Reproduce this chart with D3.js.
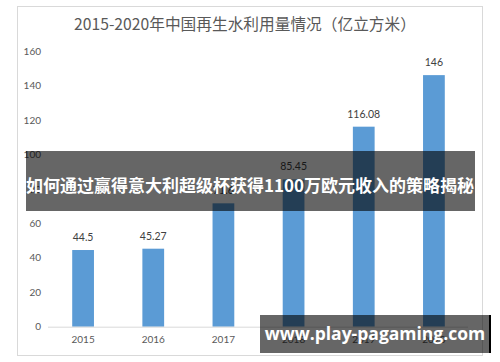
<!DOCTYPE html>
<html><head><meta charset="utf-8">
<script src="https://cdn.jsdelivr.net/npm/d3@7/dist/d3.min.js"></script>
<style>body{margin:0;background:#fff}svg{display:block}</style>
</head><body>
<svg id="c" width="500" height="362"></svg>
<script>
const title = "2015-2020年中国再生水利用量情况（亿立方米）";
const years = ["2015","2016","2017","2018","2019","2020"];
const values = [44.5, 45.27, 71.6, 85.45, 116.08, 146];
const valueLabels = ["44.5","45.27","71.6","85.45","116.08","146"];
const yTicks = [0,20,40,60,80,100,120,140,160];
const overlayText = "如何通过赢得意大利超级杯获得1100万欧元收入的策略揭秘";
const watermark = "www.play-pagaming.com";

const svg = d3.select("#c");
const font = "Lato, 'Noto Sans CJK SC', sans-serif";
svg.append("rect").attr("x",17.5).attr("y",6.5).attr("width",465).attr("height",349)
  .attr("fill","#fff").attr("stroke","#d9d9d9").attr("stroke-width",1);

svg.append("text").attr("x",245).attr("y",30).attr("text-anchor","middle")
  .attr("font-family","'Noto Sans CJK SC', sans-serif").attr("font-size",15.7).attr("fill","#595959").text(title);

const x = d3.scaleBand().domain(years).range([48,469]).paddingInner(0.69).paddingOuter(0.345);
const y = d3.scaleLinear().domain([0,160]).range([326.7,51]);

const ya = svg.append("g").attr("transform","translate(41,0)")
  .call(d3.axisLeft(y).tickValues(yTicks).tickSize(0).tickPadding(0));
ya.select(".domain").remove();
ya.selectAll("text").attr("font-family",font).attr("font-size",10).attr("fill","#595959");

svg.append("g").selectAll("rect").data(values).join("rect")
  .attr("x",(d,i)=>x(years[i])).attr("width",x.bandwidth())
  .attr("y",d=>y(d)).attr("height",d=>y(0)-y(d)).attr("fill","#5b9bd5");

const xa = svg.append("g").attr("transform",`translate(0,${y(0)})`)
  .call(d3.axisBottom(x).tickSize(0).tickPadding(9));
xa.select(".domain").remove();
svg.append("line").attr("x1",48).attr("x2",468).attr("y1",y(0)+0.5).attr("y2",y(0)+0.5).attr("stroke","#d9d9d9");
xa.selectAll("text").attr("font-family",font).attr("font-size",10).attr("fill","#595959");

svg.append("g").selectAll("text").data(values).join("text")
  .attr("x",(d,i)=>x(years[i])+x.bandwidth()/2).attr("y",d=>y(d)-9)
  .attr("text-anchor","middle").attr("font-family",font).attr("font-size",10.5).attr("fill","#404040")
  .text((d,i)=>valueLabels[i]);

svg.append("rect").attr("x",26).attr("y",151).attr("width",449).attr("height",60).attr("fill","rgba(0,0,0,0.6)");
svg.append("text").attr("x",250).attr("y",187).attr("text-anchor","middle").attr("dominant-baseline","middle")
  .attr("font-family","'Noto Sans CJK SC', sans-serif").attr("font-weight","bold").attr("font-size",17)
  .attr("fill","#fff").text(overlayText);

svg.append("rect").attr("x",260).attr("y",315).attr("width",230).attr("height",38).attr("fill","rgba(0,0,0,0.6)");
svg.append("rect").attr("x",489).attr("y",315).attr("width",2).attr("height",38).attr("fill","#000");
svg.append("text").attr("x",375).attr("y",335).attr("text-anchor","middle").attr("dominant-baseline","middle")
  .attr("font-family","'Open Sans', sans-serif").attr("font-weight","bold").attr("font-size",17.5)
  .attr("fill","#fff").text(watermark);
</script>
</body></html>
